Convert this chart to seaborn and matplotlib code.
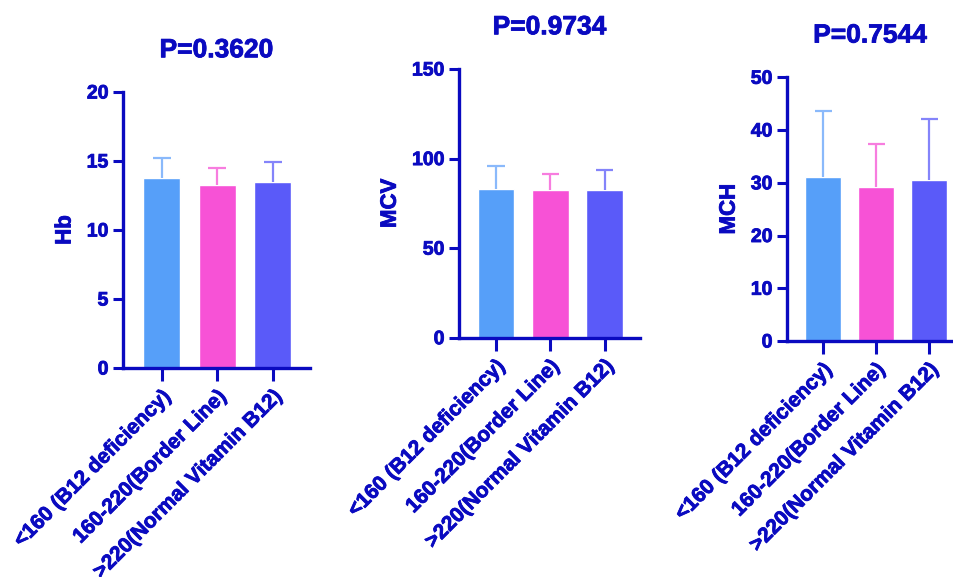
import numpy as np
import pandas as pd
import seaborn as sns
import matplotlib
matplotlib.use("Agg")
import matplotlib.pyplot as plt
import matplotlib.patheffects as pe

categories = ["<160 (B12 deficiency)", "160-220(Border Line)", ">220(Normal Vitamin B12)"]

hb_mean = [13.75, 13.26, 13.5]
hb_upper = [15.2, 14.47, 14.95]
mcv_mean = [83.0, 82.3, 82.3]
mcv_upper = [95.9, 91.4, 93.8]
mch_mean = [31.1, 29.15, 30.5]
mch_upper = [43.55, 37.4, 42.15]

panel_labels = ["Hb", "MCV", "MCH"]
p_values = ["P=0.3620", "P=0.9734", "P=0.7544"]
y_max = [20, 150, 50]
y_ticks = [[0, 5, 10, 15, 20], [0, 50, 100, 150], [0, 10, 20, 30, 40, 50]]

bar_colors = ["#569ff9", "#f752d6", "#5a5af9"]
err_colors = ["#8ab9fb", "#f77ddf", "#8484fa"]
ink = "#0a0ac0"

sns.set_theme(style="ticks")
plt.rcParams["font.family"] = ["Liberation Sans", "DejaVu Sans"]
plt.rcParams["font.weight"] = "bold"

heavy = [pe.withStroke(linewidth=0.6, foreground=ink)]

fig = plt.figure(figsize=(9.54, 5.77), dpi=100)
W, H = 954, 577
boxes = [(123, 310, 92, 368), (459, 640, 69, 337.7), (787, 953, 77.3, 341)]
xlims = [(-0.70, 2.67), (-0.68, 2.65), (-0.68, 2.45)]
means = [hb_mean, mcv_mean, mch_mean]
uppers = [hb_upper, mcv_upper, mch_upper]

for i in range(3):
    l, r, t, b = boxes[i]
    ax = fig.add_axes([l / W, 1 - b / H, (r - l) / W, (b - t) / H])
    df = pd.DataFrame({"cat": categories, "val": means[i]})
    sns.barplot(data=df, x="cat", y="val", hue="cat", palette=bar_colors,
                width=0.67, saturation=1, legend=False, ax=ax, errorbar=None)
    xs = np.arange(len(categories))
    for j in range(3):
        ax.vlines(xs[j], means[i][j], uppers[i][j], color=err_colors[j], lw=1.6, zorder=1)
        ax.hlines(uppers[i][j], xs[j] - 0.16, xs[j] + 0.16, color=err_colors[j], lw=1.6, zorder=1)
    ax.set_xlim(*xlims[i])
    ax.set_ylim(0, y_max[i])
    ax.set_yticks(y_ticks[i])
    ax.set_xticks(xs)
    ax.set_xticklabels(categories, rotation=45, ha="right", rotation_mode="anchor",
                       fontsize=15, fontweight="bold", color=ink)
    ax.tick_params(axis="y", labelsize=14, colors=ink, width=2.2, length=7)
    ax.tick_params(axis="x", colors=ink, width=2.2, length=9, pad=4)
    for lab in ax.get_yticklabels() + ax.get_xticklabels():
        lab.set_fontweight("bold")
        lab.set_path_effects(heavy)
    ax.set_xlabel("")
    ax.set_ylabel(panel_labels[i], fontsize=16, fontweight="bold", color=ink, labelpad=8,
                  path_effects=heavy)
    ax.set_title(p_values[i], fontsize=19, fontweight="bold", color=ink, pad=25,
                 path_effects=heavy)
    sns.despine(ax=ax)
    for s in ["left", "bottom"]:
        ax.spines[s].set_color(ink)
        ax.spines[s].set_linewidth(2.4)
    ax.set_facecolor("white")

fig.savefig("out.png", dpi=100, facecolor="white")
